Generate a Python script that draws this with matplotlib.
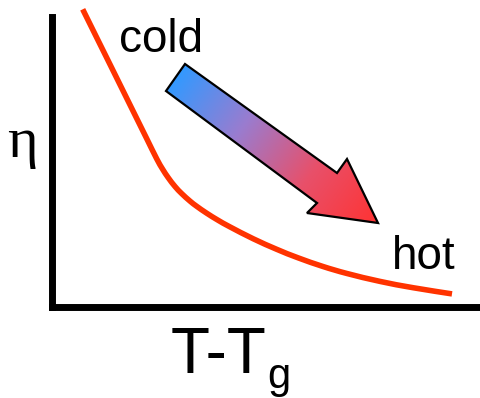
import numpy as np
import matplotlib
matplotlib.use("Agg")
import matplotlib.pyplot as plt
from matplotlib.patches import Polygon, PathPatch
from matplotlib.path import Path
from matplotlib.colors import LinearSegmentedColormap

# ---- data (axes units: x = T-Tg, y = eta, arbitrary) ----
t_minus_tg = [31.2, 45.2, 58.5, 71.8, 85.2, 95.2, 105.2, 111.0, 116.8, 123.5, 130.2,
              138.5, 145.2, 155.2, 166.5, 178.5, 201.8, 225.2, 246.5, 271.5, 295.5,
              328.5, 361.5, 400.5]
eta = [297.2, 268.9, 242.1, 215.2, 188.1, 167.9, 147.7, 137.5, 128.7, 120.0, 112.9,
       105.4, 100.2, 93.3, 86.3, 79.6, 67.7, 57.2, 48.7, 40.0, 33.0,
       25.1, 18.8, 12.6]

# arrow outline (same axes units)
arrow_x = [133.5, 285.5, 295.5, 326.5, 255.5, 265.5, 114.5]
arrow_y = [242.5, 133.5, 147.5, 83.5, 93.5, 103.5, 215.5]

labels = {"cold": "cold", "hot": "hot", "y": "η", "x": "T-T", "sub": "g"}

W, H = 481, 398
fig = plt.figure(figsize=(W / 100, H / 100), dpi=100)
left_px, bottom_px = 51.5, 306.5
ax = fig.add_axes([left_px / W, (H - bottom_px) / H, (W - left_px) / W, bottom_px / H])
ax.set_xlim(0, W - left_px)
ax.set_ylim(0, bottom_px)
ax.set_xticks([])
ax.set_yticks([])
for s in ("top", "right"):
    ax.spines[s].set_visible(False)
for s in ("left", "bottom"):
    ax.spines[s].set_linewidth(5.0)
    ax.spines[s].set_color("black")
    ax.spines[s].set_capstyle("projecting")
ax.spines["left"].set_bounds(0, bottom_px - 17)
ax.patch.set_alpha(0)

# curve: smooth (Catmull-Rom -> cubic Bezier) path through the data points
P = np.column_stack([t_minus_tg, eta])
verts = [P[0]]
codes = [Path.MOVETO]
for i in range(len(P) - 1):
    p0 = P[i - 1] if i > 0 else P[i]
    p1, p2 = P[i], P[i + 1]
    p3 = P[i + 2] if i + 2 < len(P) else P[i + 1]
    c1 = p1 + (p2 - p0) / 6.0
    c2 = p2 - (p3 - p1) / 6.0
    verts += [c1, c2, p2]
    codes += [Path.CURVE4] * 3
curve = PathPatch(Path(np.array(verts), codes), facecolor="none", edgecolor="#FF3300",
                  lw=4.0, capstyle="butt", joinstyle="round", clip_on=False, zorder=3)
ax.add_patch(curve)

# gradient arrow
averts = np.column_stack([arrow_x, arrow_y])
poly = Polygon(averts, closed=True, facecolor="none", edgecolor="black", lw=1.6, zorder=5)
ax.add_patch(poly)
cmap = LinearSegmentedColormap.from_list("coldhot", ["#3399FF", "#9A7CCF", "#E8506A", "#FF3333"])
xs = np.linspace(100, 340, 300)
ys = np.linspace(70, 260, 240)
XX, YY = np.meshgrid(xs, ys)
tail = np.array([124.0, 229.0])
tip = np.array([326.5, 83.5])
d = tip - tail
proj = ((XX - tail[0]) * d[0] + (YY - tail[1]) * d[1]) / (d @ d)
proj = np.clip(proj, 0, 1)
im = ax.imshow(proj, cmap=cmap, extent=[xs[0], xs[-1], ys[0], ys[-1]], origin="lower",
               aspect="auto", interpolation="bilinear", zorder=4)
im.set_clip_path(poly)
ax.set_xlim(0, W - left_px)
ax.set_ylim(0, bottom_px)

def px(x, y):
    return x / W, (H - y) / H

sans = ["Liberation Sans", "DejaVu Sans"]
fig.text(*px(119, 52), labels["cold"], fontsize=33, family=sans, va="baseline", ha="left")
fig.text(*px(392, 269), labels["hot"], fontsize=33, family=sans, va="baseline", ha="left")
fig.text(*px(7, 157), labels["y"], fontsize=42, family=["Liberation Serif", "DejaVu Serif"],
         va="baseline", ha="left")
fig.text(*px(171, 373), labels["x"], fontsize=46, family=sans, va="baseline", ha="left")
fig.text(*px(267, 388), labels["sub"], fontsize=30, family=sans, va="baseline", ha="left")

fig.savefig("out.png", dpi=100)
